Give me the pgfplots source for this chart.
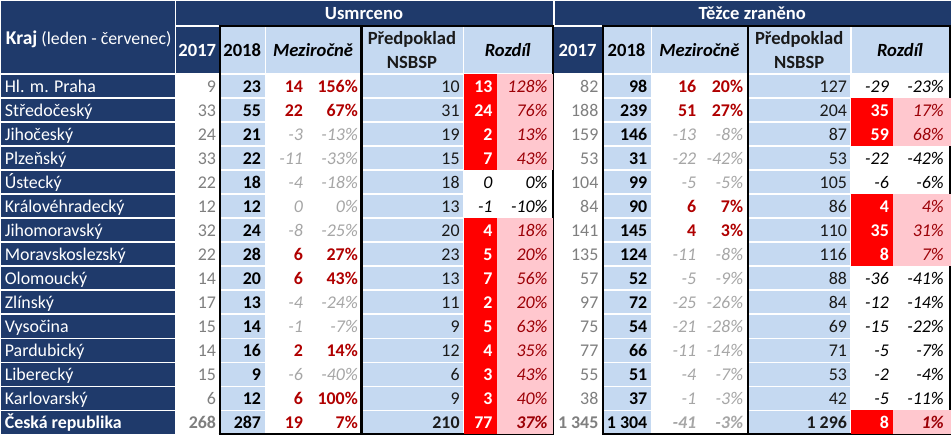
\documentclass[border=0pt]{standalone}
\usepackage{pgfplots}
\pgfplotsset{compat=1.18}
\usepackage{pgfplotstable}
\usepackage{fontspec}
\setmainfont{Carlito}

\definecolor{navy}{HTML}{1F3A6B}
\definecolor{lblue}{HTML}{C5D9F1}
\definecolor{cellred}{HTML}{FF0000}
\definecolor{pinkbg}{HTML}{FFC7CE}
\definecolor{pinktxt}{HTML}{9C0006}
\definecolor{mzred}{HTML}{B00000}
\definecolor{oldgrey}{HTML}{7F7F7F}
\definecolor{mzgrey}{HTML}{A6A6A6}
\definecolor{prtxt}{HTML}{1A1A1A}

% r = row, a* = Usmrceno, b* = Tezce zraneno
% 17/18 = years, mz/mp = mezirocne (pocet/%), pr = predpoklad, rz/rp = rozdil (pocet/%)
\pgfplotstableread[col sep=comma]{
r,kraj,a17,a18,amz,amp,apr,arz,arp,b17,b18,bmz,bmp,bpr,brz,brp
0,Hl. m. Praha,9,23,14,156,10,13,128,82,98,16,20,127,-29,-23
1,Středočeský,33,55,22,67,31,24,76,188,239,51,27,204,35,17
2,Jihočeský,24,21,-3,-13,19,2,13,159,146,-13,-8,87,59,68
3,Plzeňský,33,22,-11,-33,15,7,43,53,31,-22,-42,53,-22,-42
4,Ústecký,22,18,-4,-18,18,0,0,104,99,-5,-5,105,-6,-6
5,Královéhradecký,12,12,0,0,13,-1,-10,84,90,6,7,86,4,4
6,Jihomoravský,32,24,-8,-25,20,4,18,141,145,4,3,110,35,31
7,Moravskoslezský,22,28,6,27,23,5,20,135,124,-11,-8,116,8,7
8,Olomoucký,14,20,6,43,13,7,56,57,52,-5,-9,88,-36,-41
9,Zlínský,17,13,-4,-24,11,2,20,97,72,-25,-26,84,-12,-14
10,Vysočina,15,14,-1,-7,9,5,63,75,54,-21,-28,69,-15,-22
11,Pardubický,14,16,2,14,12,4,35,77,66,-11,-14,71,-5,-7
12,Liberecký,15,9,-6,-40,6,3,43,55,51,-4,-7,53,-2,-4
13,Karlovarský,6,12,6,100,9,3,40,38,37,-1,-3,42,-5,-11
14,Česká republika,268,287,19,7,210,77,37,1~345,1~304,-41,-3,1~296,8,1
}\data

\pgfplotsset{
  txt/.style={draw=none, mark=none,
    point meta=explicit symbolic, nodes near coords,
    every node near coord/.append style={anchor=base east, inner sep=0pt, yshift=-6.2bp}},
  pct/.style={nodes near coords={\pgfplotspointmeta\%}},
  nnc/.style={every node near coord/.append style={#1}},
}
% one text cell group: x, column, selector expression, selector range, options
\newcommand\cell[5]{%
  \addplot[txt, restrict expr to domain={#3}{#4}, #5]
    table[x expr=#1, y expr={73+24.07*(\thisrow{r}+0.5)}, meta=#2] {\data};}
% unsigned column: normal rows / total row
\newcommand\ucol[4]{%
  \cell{#1}{#2}{\thisrow{r}>13.5}{-0.5:0.5}{#3}
  \cell{#1}{#2}{\thisrow{r}>13.5}{0.5:1.5}{#4}}
% signed column: <=0 / >0, normal rows / total row
\newcommand\scol[6]{%
  \cell{#1}{#2}{10*(\thisrow{r}>13.5)+(\thisrow{#2}>0)}{-0.5:0.5}{#3}
  \cell{#1}{#2}{10*(\thisrow{r}>13.5)+(\thisrow{#2}>0)}{0.5:1.5}{#4}
  \cell{#1}{#2}{10*(\thisrow{r}>13.5)+(\thisrow{#2}>0)}{9.5:10.5}{#5}
  \cell{#1}{#2}{10*(\thisrow{r}>13.5)+(\thisrow{#2}>0)}{10.5:11.5}{#6}}

\pgfdeclareplotmark{redA}{\pgfpathrectangle{\pgfpoint{-16.5bp}{-12.1bp}}{\pgfpoint{33bp}{24.2bp}}\pgfusepath{fill}}
\pgfdeclareplotmark{pinkA}{\pgfpathrectangle{\pgfpoint{-28bp}{-12.1bp}}{\pgfpoint{56bp}{24.2bp}}\pgfusepath{fill}}
\pgfdeclareplotmark{redB}{\pgfpathrectangle{\pgfpoint{-21bp}{-12.1bp}}{\pgfpoint{42bp}{24.2bp}}\pgfusepath{fill}}
\pgfdeclareplotmark{pinkB}{\pgfpathrectangle{\pgfpoint{-29bp}{-12.1bp}}{\pgfpoint{58bp}{24.2bp}}\pgfusepath{fill}}

\newcommand\hdr{\fontsize{18.7}{22.4}\selectfont\bfseries}

\begin{document}
\fontsize{18}{21.6}\selectfont
\begin{tikzpicture}
\begin{axis}[
  width=952bp, height=435bp, scale only axis,
  xmin=0, xmax=952, ymin=0, ymax=435, y dir=reverse,
  hide axis, clip=false,
]
% backgrounds
\fill[white] (axis cs:0,0) rectangle (axis cs:952,435);
\fill[navy] (axis cs:0,0) rectangle (axis cs:175,434);
\fill[navy] (axis cs:175,0) rectangle (axis cs:952,25);
\fill[navy] (axis cs:175,25) rectangle (axis cs:219,73);
\fill[navy] (axis cs:553,25) rectangle (axis cs:603,73);
\fill[lblue] (axis cs:219,25) rectangle (axis cs:553,73);
\fill[lblue] (axis cs:603,25) rectangle (axis cs:952,73);
\fill[lblue] (axis cs:219,73) rectangle (axis cs:265,434);
\fill[lblue] (axis cs:361,73) rectangle (axis cs:464,434);
\fill[lblue] (axis cs:603,73) rectangle (axis cs:652,434);
\fill[lblue] (axis cs:748,73) rectangle (axis cs:852,434);

% red / pink cells where rozdil > 0
\addplot[only marks, mark=redA, color=cellred, restrict expr to domain={\thisrow{arz}}{0.5:100000}]
  table[x expr=480.5, y expr={73+24.07*(\thisrow{r}+0.5)}] {\data};
\addplot[only marks, mark=pinkA, color=pinkbg, restrict expr to domain={\thisrow{arz}}{0.5:100000}]
  table[x expr=525, y expr={73+24.07*(\thisrow{r}+0.5)}] {\data};
\addplot[only marks, mark=redB, color=cellred, restrict expr to domain={\thisrow{brz}}{0.5:100000}]
  table[x expr=873, y expr={73+24.07*(\thisrow{r}+0.5)}] {\data};
\addplot[only marks, mark=pinkB, color=pinkbg, restrict expr to domain={\thisrow{brz}}{0.5:100000}]
  table[x expr=923, y expr={73+24.07*(\thisrow{r}+0.5)}] {\data};

% white grid
\pgfplotsinvokeforeach{0,...,14}{
  \draw[white, line width=1.3bp] (axis cs:0,{73+24.07*#1}) -- (axis cs:952,{73+24.07*#1});
}
\draw[white, line width=1.3bp] (axis cs:175,25) -- (axis cs:952,25);
\draw[white, line width=1.3bp] (axis cs:175,0) -- (axis cs:175,434);
\pgfplotsinvokeforeach{265,464,652,852}{
  \draw[white, line width=1.3bp] (axis cs:#1,25) -- (axis cs:#1,434);
}
\draw[white, line width=2bp] (axis cs:554,0) -- (axis cs:554,25);

% black frames
\pgfplotsinvokeforeach{219.5,361.5,553.5,603.5,748.5,951}{
  \draw[black, line width=2.2bp] (axis cs:#1,24.5) -- (axis cs:#1,434.5);
}
\draw[black, line width=2.2bp] (axis cs:218.4,25) -- (axis cs:554.6,25);
\draw[black, line width=2.2bp] (axis cs:602.4,25) -- (axis cs:952,25);
\draw[black, line width=2.2bp] (axis cs:218.4,433.5) -- (axis cs:554.6,433.5);
\draw[black, line width=2.2bp] (axis cs:602.4,433.5) -- (axis cs:952,433.5);

% headers
\node[anchor=base, white, font=\hdr] at (axis cs:364,19) {Usmrceno};
\node[anchor=base, white, font=\hdr] at (axis cs:753,19) {Těžce zraněno};
\node[anchor=base west, white, inner sep=0pt] at (axis cs:5,44)
  {{\fontsize{19.6}{23}\selectfont\bfseries Kraj} {\fontsize{17.9}{21}\selectfont(leden - červenec)}};
\node[anchor=base, white, font=\hdr] at (axis cs:197,56) {2017};
\node[anchor=base, white, font=\hdr] at (axis cs:578,56) {2017};
\node[anchor=base, black, font=\hdr] at (axis cs:242,56) {2018};
\node[anchor=base, black, font=\hdr] at (axis cs:627,56) {2018};
\pgfplotsinvokeforeach{313,700}{
  \node[anchor=base, black, font=\hdr\itshape] at (axis cs:#1,56) {Meziročně};
}
\pgfplotsinvokeforeach{508,901}{
  \node[anchor=base, black, font=\hdr\itshape] at (axis cs:#1,56) {Rozdíl};
}
\pgfplotsinvokeforeach{412,800}{
  \node[anchor=base, prtxt, font=\hdr] at (axis cs:#1,43.5) {Předpoklad};
  \node[anchor=base, prtxt, font=\hdr] at (axis cs:#1,67.5) {NSBSP};
}

% data text
\ucol{4}{kraj}{nnc={anchor=base west, text=white}}{nnc={anchor=base west, text=white, font=\bfseries}}
\ucol{216}{a17}{nnc={text=oldgrey}}{nnc={text=oldgrey, font=\bfseries}}
\ucol{261}{a18}{nnc={text=black, font=\bfseries}}{nnc={text=black, font=\bfseries}}
\scol{303}{amz}{nnc={text=mzgrey, font=\itshape}}{nnc={text=mzred, font=\bfseries}}
  {nnc={text=mzgrey, font=\bfseries\itshape}}{nnc={text=mzred, font=\bfseries}}
\scol{358}{amp}{pct, nnc={text=mzgrey, font=\itshape}}{pct, nnc={text=mzred, font=\bfseries}}
  {pct, nnc={text=mzgrey, font=\bfseries\itshape}}{pct, nnc={text=mzred, font=\bfseries}}
\ucol{460}{apr}{nnc={text=prtxt}}{nnc={text=prtxt, font=\bfseries}}
\scol{493}{arz}{nnc={text=black, font=\itshape}}{nnc={text=white, font=\bfseries}}
  {nnc={text=black, font=\bfseries\itshape}}{nnc={text=white, font=\bfseries}}
\scol{548}{arp}{pct, nnc={text=black, font=\itshape}}{pct, nnc={text=pinktxt, font=\itshape}}
  {pct, nnc={text=black, font=\bfseries\itshape}}{pct, nnc={text=pinktxt, font=\bfseries\itshape}}
\ucol{599}{b17}{nnc={text=oldgrey}}{nnc={text=oldgrey, font=\bfseries}}
\ucol{648}{b18}{nnc={text=black, font=\bfseries}}{nnc={text=black, font=\bfseries}}
\scol{697}{bmz}{nnc={text=mzgrey, font=\itshape}}{nnc={text=mzred, font=\bfseries}}
  {nnc={text=mzgrey, font=\bfseries\itshape}}{nnc={text=mzred, font=\bfseries}}
\scol{744}{bmp}{pct, nnc={text=mzgrey, font=\itshape}}{pct, nnc={text=mzred, font=\bfseries}}
  {pct, nnc={text=mzgrey, font=\bfseries\itshape}}{pct, nnc={text=mzred, font=\bfseries}}
\ucol{848}{bpr}{nnc={text=prtxt}}{nnc={text=prtxt, font=\bfseries}}
\scol{890}{brz}{nnc={text=black, font=\itshape}}{nnc={text=white, font=\bfseries}}
  {nnc={text=black, font=\bfseries\itshape}}{nnc={text=white, font=\bfseries}}
\scol{945}{brp}{pct, nnc={text=black, font=\itshape}}{pct, nnc={text=pinktxt, font=\itshape}}
  {pct, nnc={text=black, font=\bfseries\itshape}}{pct, nnc={text=pinktxt, font=\bfseries\itshape}}
\end{axis}
\end{tikzpicture}
\end{document}
